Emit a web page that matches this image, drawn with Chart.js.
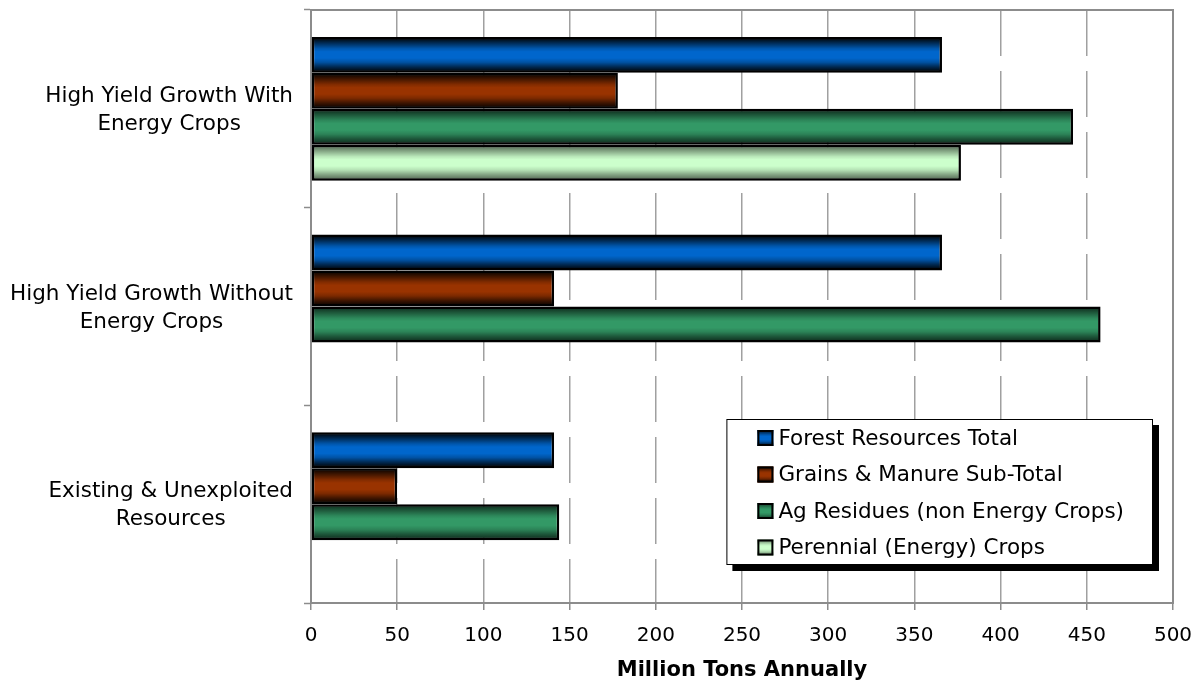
<!DOCTYPE html>
<html>
<head>
<meta charset="utf-8">
<script src="https://cdn.jsdelivr.net/npm/chart.js@4"></script>
<style>
  html, body { margin: 0; padding: 0; background: #ffffff; }
  canvas { display: block; }
</style>
</head>
<body>
<canvas id="chart" width="1199" height="683"></canvas>
<script>
// Biomass resource scenarios, million dry tons per year
const categories = [
  ["High Yield Growth With", "Energy Crops"],
  ["High Yield Growth Without", "Energy Crops"],
  ["Existing & Unexploited", "Resources"]
];
const seriesNames = [
  "Forest Resources Total",
  "Grains & Manure Sub-Total",
  "Ag Residues (non Energy Crops)",
  "Perennial (Energy) Crops"
];
const forestTotal = [366, 366, 141];
const grainsManure = [178, 141, 50];
const agResidues = [442, 458, 144];
const perennialCrops = [377, null, null];
const xTickValues = [0, 50, 100, 150, 200, 250, 300, 350, 400, 450, 500];
const axisTitle = "Million Tons Annually";

const seriesColors = ["#0066cc", "#993300", "#339966", "#ccffcc"];
const shadeStrength = [0.9, 0.88, 0.66, 0.55];
const FONT = "'DejaVu Sans', Verdana, sans-serif";
const TEXT_SIZE = 21.5;

// darkened top/bottom edges on each bar, like a cylinder shading
function shadeGradient(ctx, top, bottom, a) {
  const g = ctx.createLinearGradient(0, top, 0, bottom);
  g.addColorStop(0, `rgba(0,0,0,${a})`);
  g.addColorStop(0.14, `rgba(0,0,0,${a * 0.62})`);
  g.addColorStop(0.3, `rgba(0,0,0,${a * 0.18})`);
  g.addColorStop(0.4, "rgba(0,0,0,0)");
  g.addColorStop(0.6, "rgba(0,0,0,0)");
  g.addColorStop(0.73, `rgba(0,0,0,${a * 0.22})`);
  g.addColorStop(0.87, `rgba(0,0,0,${a * 0.65})`);
  g.addColorStop(1, `rgba(0,0,0,${a})`);
  return g;
}

const barShading = {
  id: "barShading",
  afterDatasetsDraw(chart) {
    const ctx = chart.ctx;
    chart.data.datasets.forEach((ds, di) => {
      const meta = chart.getDatasetMeta(di);
      meta.data.forEach((bar, i) => {
        if (ds.data[i] == null) return;
        const p = bar.getProps(["x", "y", "base", "height"], true);
        const bw = 2;
        const left = Math.min(p.x, p.base) + bw;
        const right = Math.max(p.x, p.base) - bw;
        const top = p.y - p.height / 2 + bw;
        const bottom = p.y + p.height / 2 - bw;
        if (right <= left) return;
        ctx.save();
        ctx.fillStyle = shadeGradient(ctx, top, bottom, shadeStrength[di]);
        ctx.fillRect(left, top, right - left, bottom - top);
        ctx.restore();
      });
    });
  }
};

// solid grey frame round the plot area
const plotFrame = {
  id: "plotFrame",
  beforeDatasetsDraw(chart) {
    const { ctx, chartArea: a } = chart;
    ctx.save();
    ctx.strokeStyle = "#8c8c8c";
    ctx.lineWidth = 2;
    ctx.strokeRect(a.left, a.top, a.right - a.left, a.bottom - a.top);
    ctx.restore();
  }
};

// category names: each block centred on itself, right edge near the axis
const categoryLabels = {
  id: "categoryLabels",
  afterDraw(chart) {
    const ctx = chart.ctx;
    const yScale = chart.scales.y;
    const rightEdge = chart.chartArea.left - 18;
    const lineH = 28;
    ctx.save();
    ctx.font = `${TEXT_SIZE}px ${FONT}`;
    ctx.fillStyle = "#000";
    ctx.textAlign = "center";
    ctx.textBaseline = "middle";
    chart.data.labels.forEach((lines, i) => {
      const cy = yScale.getPixelForTick(i) + 1.5;
      const widest = Math.max(...lines.map(l => ctx.measureText(l).width));
      const cx = rightEdge - widest / 2;
      const y0 = cy - (lines.length - 1) * lineH / 2;
      lines.forEach((l, k) => ctx.fillText(l, cx, y0 + k * lineH));
    });
    ctx.restore();
  }
};

// boxed legend with drop shadow inside the plot area
const boxLegend = {
  id: "boxLegend",
  afterDraw(chart) {
    const ctx = chart.ctx;
    const a = chart.chartArea;
    ctx.save();
    ctx.font = `${TEXT_SIZE}px ${FONT}`;
    const names = chart.data.datasets.map(d => d.label);
    const widest = Math.max(...names.map(n => ctx.measureText(n).width));
    const padL = 31, sw = 16, gap = 5, padR = 29, rowH = 36.5, padT = 19;
    const w = padL + sw + gap + widest + padR;
    const h = 146;
    const right = a.right - 20;
    const bottom = a.bottom - 38;
    const left = right - w;
    const top = bottom - h;
    ctx.fillStyle = "#000";
    ctx.fillRect(left + 6, top + 6, w, h);
    ctx.fillStyle = "#fff";
    ctx.fillRect(left, top, w, h);
    ctx.strokeStyle = "#000";
    ctx.lineWidth = 1;
    ctx.strokeRect(left + 0.5, top + 0.5, w - 1, h - 1);
    ctx.textBaseline = "middle";
    ctx.textAlign = "left";
    names.forEach((n, i) => {
      const cy = top + padT + i * rowH;
      const sx = left + padL;
      const sy = cy - 8;
      ctx.fillStyle = seriesColors[i];
      ctx.fillRect(sx, sy, sw, 16);
      ctx.fillStyle = shadeGradient(ctx, sy, sy + 16, shadeStrength[i]);
      ctx.fillRect(sx, sy, sw, 16);
      ctx.strokeStyle = "#000";
      ctx.lineWidth = 2;
      ctx.strokeRect(sx + 1, sy + 1, sw - 2, 14);
      ctx.fillStyle = "#000";
      ctx.fillText(n, sx + sw + gap, cy + 1);
    });
    ctx.restore();
  }
};

const seriesData = [forestTotal, grainsManure, agResidues, perennialCrops];

new Chart(document.getElementById("chart"), {
  type: "bar",
  data: {
    labels: categories,
    datasets: seriesData.map((values, i) => ({
      label: seriesNames[i],
      data: values,
      backgroundColor: seriesColors[i],
      borderColor: "#000",
      borderWidth: 2.5,
      borderSkipped: false,
      barPercentage: 1,
      categoryPercentage: 0.728
    }))
  },
  options: {
    indexAxis: "y",
    responsive: false,
    animation: false,
    devicePixelRatio: 1,
    layout: { padding: { top: 10, right: 26, left: 0, bottom: 0 } },
    plugins: {
      legend: { display: false },
      tooltip: { enabled: false }
    },
    scales: {
      x: {
        type: "linear",
        min: xTickValues[0],
        max: xTickValues[xTickValues.length - 1],
        afterBuildTicks(scale) {
          scale.ticks = xTickValues.map(v => ({ value: v }));
        },
        afterFit(scale) {
          scale.height = 80;
          scale.paddingLeft = 0;
          scale.paddingRight = 0;
        },
        grid: {
          color: "#a0a0a0",
          lineWidth: 1.5,
          drawTicks: true,
          tickLength: 7,
          tickColor: "#8c8c8c",
          tickWidth: 1.5
        },
        border: { display: true, color: "#8c8c8c", width: 2, dash: [46, 15] },
        ticks: {
          color: "#000",
          padding: 14,
          font: { family: FONT, size: 20 },
          maxRotation: 0,
          autoSkip: false
        },
        title: {
          display: true,
          text: axisTitle,
          color: "#000",
          font: { family: FONT, size: 21, weight: "bold" },
          padding: { top: 0, bottom: 0 }
        }
      },
      y: {
        type: "category",
        afterFit(scale) {
          scale.width = 311;
          scale.paddingTop = 0;
          scale.paddingBottom = 0;
        },
        grid: {
          offset: true,
          drawOnChartArea: false,
          drawTicks: true,
          tickLength: 7,
          tickColor: "#8c8c8c",
          tickWidth: 1.5
        },
        border: { display: true, color: "#8c8c8c", width: 2 },
        ticks: { display: false }
      }
    }
  },
  plugins: [plotFrame, barShading, categoryLabels, boxLegend]
});
</script>
</body>
</html>
